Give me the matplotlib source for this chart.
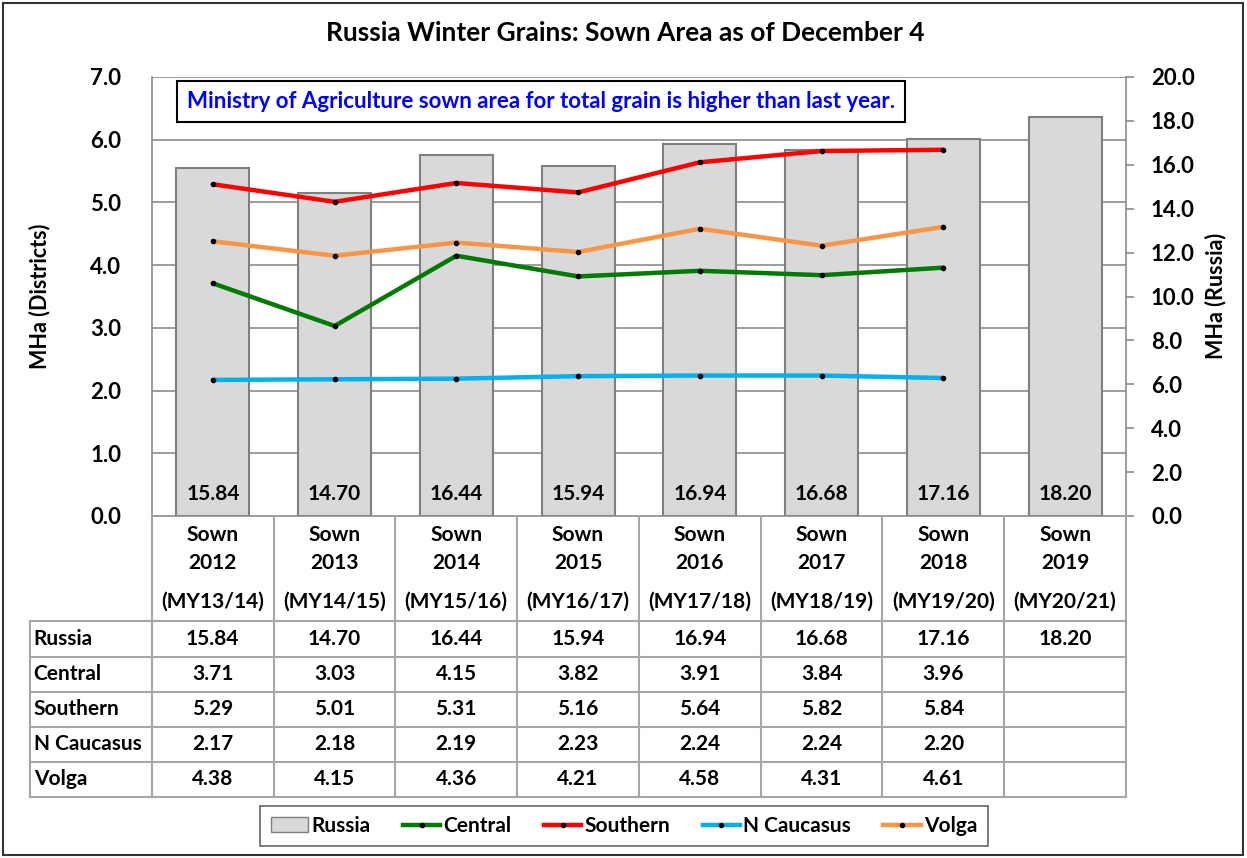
import numpy as np
import matplotlib
matplotlib.use("Agg")
import matplotlib.pyplot as plt
from matplotlib.patches import Rectangle, Patch
from matplotlib.lines import Line2D

plt.rcParams['font.family'] = ['Lato', 'DejaVu Sans']
plt.rcParams['font.weight'] = 'bold'

# data
years = ["2012", "2013", "2014", "2015", "2016", "2017", "2018", "2019"]
my_labels = ["(MY13/14)", "(MY14/15)", "(MY15/16)", "(MY16/17)",
             "(MY17/18)", "(MY18/19)", "(MY19/20)", "(MY20/21)"]
russia = [15.84, 14.70, 16.44, 15.94, 16.94, 16.68, 17.16, 18.20]
central = [3.71, 3.03, 4.15, 3.82, 3.91, 3.84, 3.96]
southern = [5.29, 5.01, 5.31, 5.16, 5.64, 5.82, 5.84]
ncaucasus = [2.17, 2.18, 2.19, 2.23, 2.24, 2.24, 2.20]
volga = [4.38, 4.15, 4.36, 4.21, 4.58, 4.31, 4.61]

series = [("Central", central, "#007a00"),
          ("Southern", southern, "#ff0000"),
          ("N Caucasus", ncaucasus, "#00b0f0"),
          ("Volga", volga, "#f79646")]

W, H = 1247, 858
fig = plt.figure(figsize=(W / 100, H / 100), dpi=100)

def fx(px):
    return px / W

def fy(py):
    return 1 - py / H

# main axes (pixel box 152..1126, 77..516)
L, R, T, B = 152, 1126, 77, 516
ax = fig.add_axes([fx(L), fy(B), fx(R - L), (B - T) / H])
ax2 = ax.twinx()
ax.set_zorder(ax2.get_zorder() + 1)
ax.patch.set_visible(False)

x = np.arange(len(years))
gridc = "#8c8c8c"

# gridlines drawn in bar axes so bars cover them
for v in range(1, 8):
    ax2.plot([0, 1], [v, v], transform=ax.get_yaxis_transform(),
             color=gridc, lw=1.2, zorder=0)

ax2.bar(x, russia, width=0.6, color="#d9d9d9", edgecolor="#7f7f7f",
        linewidth=1.5, zorder=2)
for xi, v in zip(x, russia):
    ax2.annotate(f"{v:.2f}", (xi, 0), xytext=(0, 16), textcoords="offset points",
                 ha="center", va="center", fontsize=15, fontweight="bold", zorder=3)

for name, vals, col in series:
    ax.plot(x[:len(vals)], vals, color=col, lw=3.2, marker="o", markersize=3,
            markerfacecolor="black", markeredgecolor="black", solid_capstyle="round")

ax.set_xlim(-0.5, len(years) - 0.5)
ax.set_ylim(0, 7)
ax2.set_ylim(0, 20)
ax.set_yticks(np.arange(0, 7.1, 1))
ax.set_yticklabels([f"{v:.1f}" for v in np.arange(0, 7.1, 1)])
ax2.set_yticks(np.arange(0, 20.1, 2))
ax2.set_yticklabels([f"{v:.1f}" for v in np.arange(0, 20.1, 2)])
ax.set_xticks([])
ax.tick_params(axis="y", length=0, pad=22, labelsize=16)
ax2.tick_params(axis="y", length=6, width=1.2, color=gridc, pad=12, labelsize=16)
for a in (ax, ax2):
    for s in a.spines.values():
        s.set_visible(False)
for side in ("right", "left", "bottom"):
    ax2.spines[side].set_visible(True)
    ax2.spines[side].set_color(gridc)
    ax2.spines[side].set_linewidth(1.2)

fig.text(fx(40), fy(296), "MHa (Districts)", rotation=90, ha="center", va="center",
         fontsize=15.5, fontweight="bold")
fig.text(fx(1216), fy(296), "MHa (Russia)", rotation=90, ha="center", va="center",
         fontsize=15.5, fontweight="bold")

fig.text(fx(625), fy(33), "Russia Winter Grains: Sown Area as of December 4",
         ha="center", va="center", fontsize=19, fontweight="bold")

ax.text(0.0355, 0.945,
        "Ministry of Agriculture sown area for total grain is higher than last year.",
        transform=ax.transAxes, ha="left", va="center", color="#0000ff",
        fontsize=16, fontweight="bold",
        bbox=dict(boxstyle="square,pad=0.45", facecolor="white", edgecolor="black", lw=1.5))

# table below the chart
tab = fig.add_axes([fx(30), fy(797), fx(R - 30), (797 - B) / H])
tab.set_xlim(-1.5, len(years) - 0.5)
tab.set_ylim(8, 0)
tab.axis("off")
tc = "#a6a6a6"
for b in np.arange(-0.5, len(years), 1):
    tab.plot([b, b], [0, 8], color=tc, lw=1.5, clip_on=False)
tab.plot([-1.5, -1.5], [3, 8], color=tc, lw=1.5, clip_on=False)
for r in range(3, 9):
    tab.plot([-1.5, len(years) - 0.5], [r, r], color=tc, lw=1.5, clip_on=False)

fs = 15
for i in range(len(years)):
    tab.text(i, 0.55, "Sown", ha="center", va="center", fontsize=fs)
    tab.text(i, 1.35, years[i], ha="center", va="center", fontsize=fs)
    tab.text(i, 2.45, my_labels[i], ha="center", va="center", fontsize=fs)

rows = [("Russia", russia)] + [(n, v) for n, v, c in series]
for j, (name, vals) in enumerate(rows):
    yc = 3.5 + j
    tab.text(-1.47, yc, name, ha="left", va="center", fontsize=fs)
    for i, v in enumerate(vals):
        tab.text(i, yc, f"{v:.2f}", ha="center", va="center", fontsize=fs)

# legend
handles = [Patch(facecolor="#d9d9d9", edgecolor="#7f7f7f", label="Russia")]
for name, vals, col in series:
    handles.append(Line2D([], [], color=col, lw=3.2, marker="o", markersize=3,
                          markerfacecolor="black", markeredgecolor="black", label=name))
leg = fig.legend(handles=handles, loc="center", bbox_to_anchor=(fx(624), fy(826)),
                 ncol=5, fontsize=15, frameon=True, fancybox=False,
                 handlelength=1.8, handletextpad=0.15, columnspacing=1.55,
                 borderpad=0.5, borderaxespad=0.0)
leg.get_frame().set_edgecolor("#404040")
leg.get_frame().set_linewidth(1.2)

fig.patches.append(Rectangle((fx(3), fy(855)), fx(1240), (852 / H), transform=fig.transFigure,
                             fill=False, edgecolor="#333333", lw=1.5))

fig.savefig("out.png", dpi=100)
